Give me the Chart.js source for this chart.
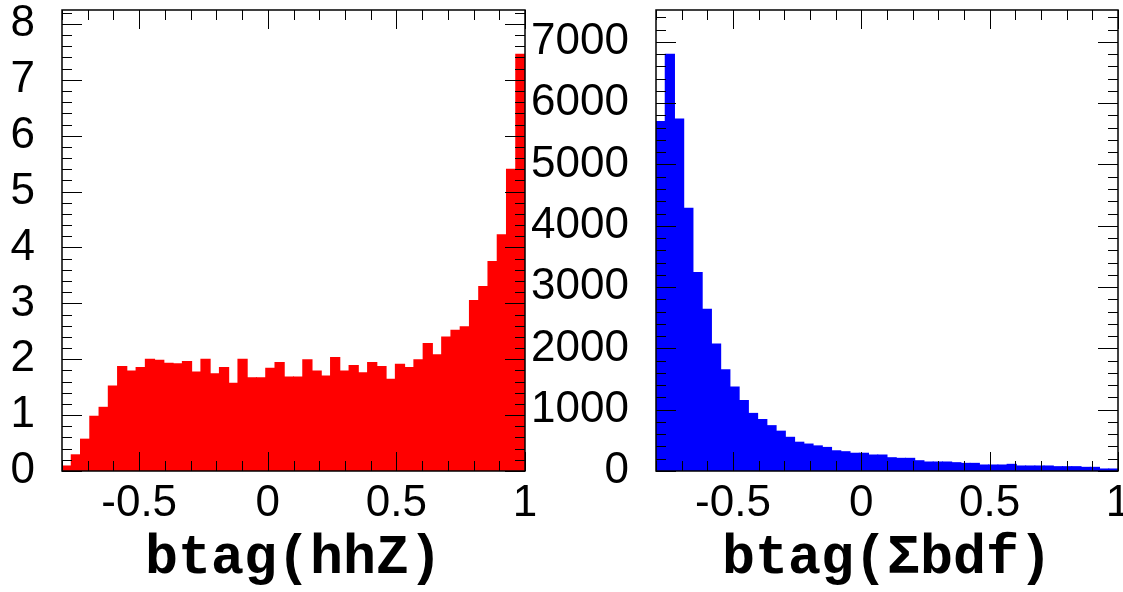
<!DOCTYPE html>
<html><head><meta charset="utf-8">
<script src="https://cdn.jsdelivr.net/npm/chart.js@4.4.1/dist/chart.umd.min.js"></script>
<style>
html,body{margin:0;padding:0;background:#fff;overflow:hidden}
#wrap{position:relative;width:1123px;height:592px;background:#fff}
canvas{position:absolute;top:0}
#c1{left:0}
#c2{left:520px}
</style></head><body>
<div id="wrap"><canvas id="c1" width="600" height="592"></canvas><canvas id="c2" width="603" height="592"></canvas></div>
<script>
// ---- data ----
const X_MIN = -0.8, X_MAX = 1.0, N_BINS = 50;
const xTickValues = [-0.5, 0, 0.5, 1];
const hhzTitle = 'btag(hhZ)';
const bdfTitle = 'btag(\u03A3bdf)';
const hhzYTicks = [0, 1, 2, 3, 4, 5, 6, 7, 8];
const bdfYTicks = [0, 1000, 2000, 3000, 4000, 5000, 6000, 7000];
const hhzValues = [
  0.09, 0.29, 0.57, 0.98, 1.14, 1.52, 1.87, 1.79, 1.85, 2.00,
  1.98, 1.93, 1.92, 1.96, 1.77, 2.00, 1.74, 1.85, 1.57, 2.00,
  1.67, 1.67, 1.84, 1.94, 1.68, 1.68, 1.99, 1.79, 1.70, 2.03,
  1.79, 1.89, 1.76, 1.94, 1.87, 1.64, 1.91, 1.85, 1.99, 2.28,
  2.08, 2.40, 2.52, 2.58, 3.05, 3.30, 3.75, 4.23, 5.40, 7.46
];
const bdfValues = [
  5700, 6800, 5740, 4285, 3240, 2640, 2070, 1650, 1370, 1150,
  940, 840, 740, 650, 550, 470, 440, 410, 385, 330,
  315, 290, 290, 261, 261, 217, 207, 207, 168, 147,
  147, 147, 136, 125, 125, 98, 98, 98, 109, 82,
  82, 82, 82, 71, 71, 71, 60, 60, 33, 33
];

// bin centres (positions only)
const binWidth = (X_MAX - X_MIN) / N_BINS;
const binCenters = hhzValues.map((_, i) => X_MIN + (i + 0.5) * binWidth);

const rootFrame = {
  id: 'rootFrame',
  afterDatasetsDraw(chart, args, opts) {
    const {ctx, chartArea: a, scales: {x, y}} = chart;
    ctx.save();
    ctx.strokeStyle = '#000';
    ctx.lineWidth = 1;
    const seg = (x1, y1, x2, y2) => { ctx.beginPath(); ctx.moveTo(x1, y1); ctx.lineTo(x2, y2); ctx.stroke(); };
    // x ticks
    for (let v = X_MIN; v <= X_MAX + 1e-9; v += opts.xMinorStep) {
      const isMajor = xTickValues.some(t => Math.abs(t - v) < 1e-6);
      const len = isMajor ? 19 : 10;
      const px = Math.round(x.getPixelForValue(v)) + 0.5;
      seg(px, a.bottom, px, a.bottom - len);
      seg(px, a.top, px, a.top + len);
    }
    // y ticks
    for (let v = 0; v <= y.max + 1e-9; v += opts.yMinorStep) {
      const isMajor = opts.yTicks.some(t => Math.abs(t - v) < 1e-6);
      const len = isMajor ? 20 : 10;
      const py = Math.round(y.getPixelForValue(v)) + 0.5;
      seg(a.left, py, a.left + len, py);
      seg(a.right, py, a.right - len, py);
    }
    ctx.lineWidth = 1.5;
    ctx.strokeRect(a.left, a.top, a.right - a.left, a.bottom - a.top);
    ctx.restore();
  }
};

function makeChart(canvas, values, color, yMax, yTicks, yMinorStep, yAxisWidth, padRight, title) {
  return new Chart(canvas, {
    type: 'bar',
    data: {
      datasets: [{
        data: values.map((v, i) => ({x: binCenters[i], y: v})),
        backgroundColor: color,
        borderWidth: 0,
        inflateAmount: 0.5,
        barPercentage: 1.0,
        categoryPercentage: 1.0
      }]
    },
    options: {
      responsive: false,
      devicePixelRatio: 1,
      animation: false,
      layout: {padding: {left: 0, right: padRight, top: 10, bottom: 0}},
      plugins: {
        legend: {display: false},
        tooltip: {enabled: false},
        rootFrame: {xMinorStep: 0.1, yMinorStep: yMinorStep, yTicks: yTicks}
      },
      scales: {
        x: {
          type: 'linear',
          min: X_MIN, max: X_MAX,
          offset: false,
          grid: {display: false, drawTicks: false},
          border: {display: false},
          afterBuildTicks: s => { s.ticks = xTickValues.map(v => ({value: v})); },
          afterFit: s => { s.height = 121; s.paddingLeft = 0; s.paddingRight = 0; },
          ticks: {
            autoSkip: false, maxRotation: 0, padding: 6, color: '#000',
            font: {family: '"Liberation Sans", Arial, sans-serif', size: 44},
            callback: v => String(v)
          },
          title: {
            display: true, text: title, color: '#000',
            font: {family: '"Liberation Mono", "Courier New", monospace', size: 55, weight: 'bold', lineHeight: 1.2},
            padding: {top: 0, bottom: 0}
          }
        },
        y: {
          min: 0, max: yMax,
          grid: {display: false, drawTicks: false},
          border: {display: false},
          afterBuildTicks: s => { s.ticks = yTicks.map(v => ({value: v})); },
          afterFit: s => { s.width = yAxisWidth; s.paddingTop = 0; s.paddingBottom = 0; },
          ticks: {
            autoSkip: false, padding: 27, color: '#000',
            font: {family: '"Liberation Sans", Arial, sans-serif', size: 44},
            callback: v => String(v)
          }
        }
      }
    },
    plugins: [rootFrame]
  });
}

makeChart(document.getElementById('c1'), hhzValues, '#ff0000', 8.25, hhzYTicks, 0.2, 62, 75, hhzTitle);
makeChart(document.getElementById('c2'), bdfValues, '#0000ff', 7520, bdfYTicks, 200, 136, 5, bdfTitle);
</script>
</body></html>
